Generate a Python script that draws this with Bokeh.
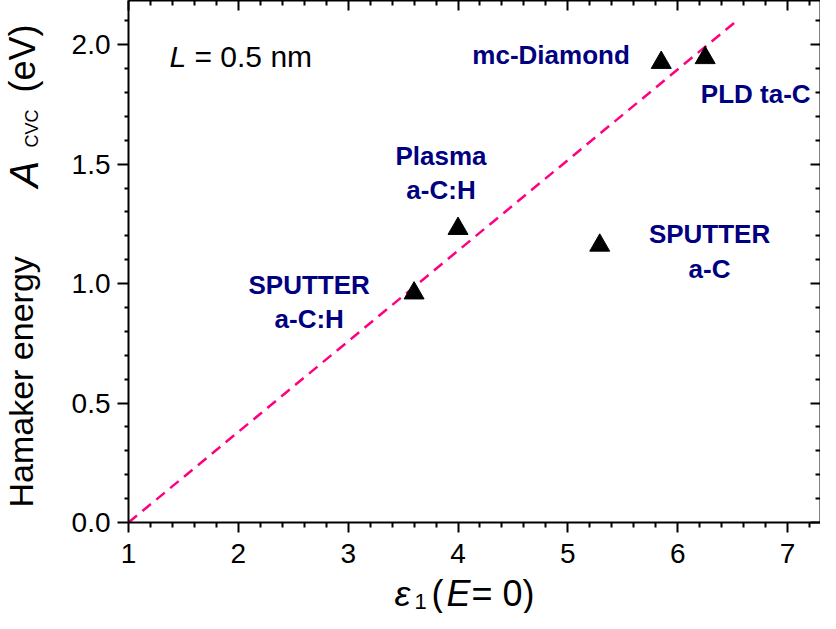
import math
from bokeh.plotting import figure
from bokeh.layouts import row, column
from bokeh.models import (LinearAxis, Label, Range1d, CustomJSTickFormatter,
                          FixedTicker, NumeralTickFormatter, ColumnDataSource)
from bokeh.core.properties import value
from bokeh.embed import file_html
from bokeh.resources import INLINE

# ---- data ----
eps1 = [3.6, 4.0, 5.29, 5.85, 6.25]
hamaker = [0.96, 1.23, 1.16, 1.925, 1.945]

fit_x = [1.0, 6.55]
fit_y = [0.0, 2.105]

x_ticks = [1, 2, 3, 4, 5, 6, 7]
y_ticks = [0.0, 0.5, 1.0, 1.5, 2.0]

label_text = ["mc-Diamond", "PLD ta-C", "SPUTTER", "a-C", "Plasma", "a-C:H", "SPUTTER", "a-C:H"]
label_x = [5.564, 6.71, 6.29, 6.29, 3.845, 3.845, 2.645, 2.645]
label_y = [1.956, 1.794, 1.206, 1.063, 1.534, 1.393, 0.996, 0.851]
label_align = ["right", "center", "center", "center", "center", "center", "center", "center"]

FONT = "Liberation Sans"
NAVY = "#000080"
PINK = "#ff0080"

x_minor = [t + k * 0.2 for t in [0] + x_ticks for k in range(1, 5)]
y_minor = [t + k * 0.1 for t in y_ticks for k in range(1, 5)]

YT_W = 48          # width of the strip holding the y title
MAIN_H = 574       # height of the main plot
XT_H = 39          # height of the strip holding the x title
TOTAL_W = 820
BOTTOM = 52        # border below the main frame

p = figure(width=TOTAL_W - YT_W, height=MAIN_H,
           x_range=Range1d(1, 7.3), y_range=Range1d(0, 2.185),
           output_backend="svg", toolbar_location=None,
           min_border_left=80, min_border_right=0,
           min_border_top=0, min_border_bottom=BOTTOM)
p.grid.visible = False
p.outline_line_color = None

xt = FixedTicker(ticks=x_ticks, minor_ticks=x_minor)
yt = FixedTicker(ticks=y_ticks, minor_ticks=y_minor)

for ax in p.xaxis:
    ax.ticker = xt
    ax.formatter = NumeralTickFormatter(format="0")
    ax.major_tick_out = 10
    ax.major_tick_in = 0
    ax.minor_tick_out = 5
    ax.minor_tick_in = 0
    ax.major_label_standoff = 11
for ax in p.yaxis:
    ax.ticker = yt
    ax.formatter = NumeralTickFormatter(format="0.0")
    ax.major_tick_out = 11
    ax.major_tick_in = 0
    ax.minor_tick_out = 4
    ax.minor_tick_in = 0
    ax.major_label_standoff = 7

for ax in list(p.xaxis) + list(p.yaxis):
    ax.axis_line_width = 2
    ax.major_tick_line_width = 2
    ax.minor_tick_line_width = 2
    ax.axis_line_color = "black"
    ax.major_tick_line_color = "black"
    ax.minor_tick_line_color = "black"
    ax.major_label_text_font = FONT
    ax.major_label_text_font_size = "28px"
    ax.major_label_text_color = "black"

blank = CustomJSTickFormatter(code="return ''")
top = LinearAxis(ticker=xt, formatter=blank)
right = LinearAxis(ticker=yt, formatter=blank)
for ax in (top, right):
    ax.axis_line_width = 2
    ax.major_tick_line_width = 2
    ax.minor_tick_line_width = 2
    ax.major_tick_in = 10
    ax.major_tick_out = 0
    ax.minor_tick_in = 5
    ax.minor_tick_out = 0
    ax.major_label_standoff = 0
    ax.major_label_text_font_size = "1px"
p.add_layout(top, "above")
p.add_layout(right, "right")

# dashed guide line
p.line(fit_x, fit_y, line_color=PINK, line_width=2.5, line_dash="11 7")

# data points
p.scatter(eps1, hamaker, marker="triangle", size=20, fill_color="black",
          line_color="black")

# sample labels
src = ColumnDataSource(dict(x=label_x, y=label_y, text=label_text, align=label_align))
p.text(x="x", y="y", text="text", source=src, text_align="align",
       text_baseline="middle", text_font=value(FONT), text_font_style="bold",
       text_font_size="26px", text_color=NAVY)

# L = 0.5 nm
for txt, x, style in (("L", 41, "italic"), ("= 0.5 nm", 66, "normal")):
    p.add_layout(Label(x=x, y=466, x_units="screen", y_units="screen", text=txt,
                       text_font=FONT, text_font_size="30px", text_font_style=style,
                       text_color="black", text_align="left",
                       text_baseline="middle"))


def strip(w, h, y_end):
    f = figure(width=w, height=h, x_range=Range1d(0, w), y_range=Range1d(0, y_end),
               output_backend="svg", toolbar_location=None,
               x_axis_location=None, y_axis_location=None,
               min_border=0, min_border_left=0, min_border_right=0,
               min_border_top=0, min_border_bottom=0)
    f.grid.visible = False
    f.outline_line_color = None
    return f


def piece(f, text, x, y, size, style="normal", angle=0.0):
    f.text(x=[x], y=[y], text=[text], angle=angle, text_align="left",
           text_baseline="middle", text_font=value(FONT),
           text_font_size=size, text_font_style=style, text_color="black")


# y axis title (rotated); the strip's frame lines up with the main frame
ytitle = strip(YT_W, MAIN_H, MAIN_H - BOTTOM)
rot = math.pi / 2
piece(ytitle, "Hamaker energy", 20.5, 15, "34px", angle=rot)
piece(ytitle, "A", 23.5, 335, "40px", "italic", angle=rot)
piece(ytitle, "CVC", 31, 375, "18px", angle=rot)
piece(ytitle, "(eV)", 21.5, 430, "36px", angle=rot)

# x axis title
xtitle = strip(TOTAL_W, XT_H, XT_H)
piece(xtitle, "\u03b5", 394, 20, "36px", "italic")
piece(xtitle, "1", 414, 12.5, "22px")
piece(xtitle, "(", 431, 20, "36px")
piece(xtitle, "E", 446, 20, "36px", "italic")
piece(xtitle, "=", 471, 20, "36px")
piece(xtitle, "0)", 502, 20, "36px")

layout = column(row(ytitle, p, spacing=0), xtitle, spacing=0)

open("out.html", "w").write(file_html(layout, INLINE))
